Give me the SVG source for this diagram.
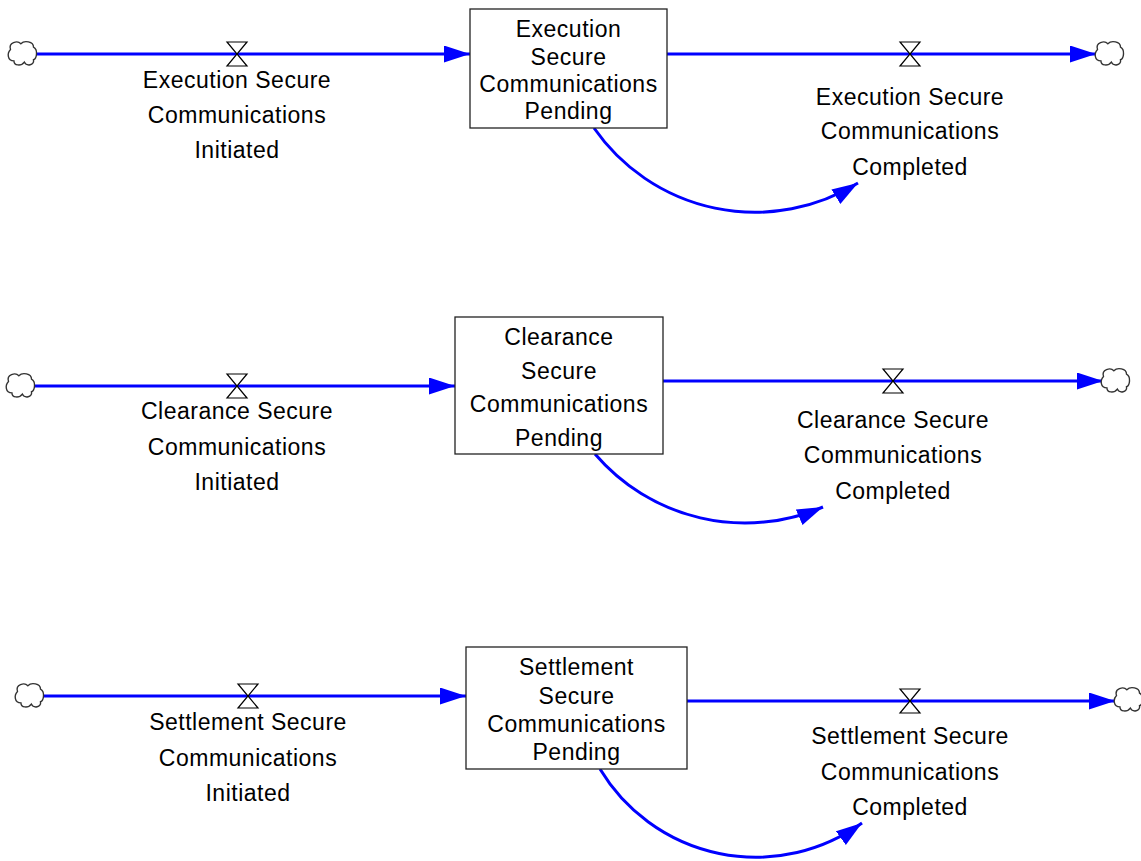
<svg xmlns="http://www.w3.org/2000/svg" width="1141" height="861" viewBox="0 0 1141 861">
<style>
text{font-family:"Liberation Sans",Arial,sans-serif;font-size:23px;letter-spacing:0.5px;fill:#000;text-anchor:middle}
.flow{stroke:#0000ff;stroke-width:3;fill:none}
.link{stroke:#0000ff;stroke-width:3;fill:none}
.stock{fill:#fff;stroke:#222;stroke-width:1.3}
.valve{fill:#fff;stroke:#000;stroke-width:1.2;stroke-linejoin:miter}
.cloud{fill:#fff;stroke:#333;stroke-width:1.2}
</style>
<defs>
<marker id="ah" markerUnits="userSpaceOnUse" markerWidth="27" markerHeight="18" refX="26" refY="8.5" orient="auto">
<path d="M0,0 L26,8.5 L0,17 Z" fill="#0000ff"/>
</marker>
<path id="cloudShape" class="cloud" transform="scale(1.15)" d="M-10,-4 C-12,-10 -4,-12 -1,-9 C2,-12 10,-11 10,-6 C14,-4 13,4 10,5 C11,10 4,11 2,7 C-1,11 -7,10 -7,6 C-13,6 -13,-1 -10,-4 Z"/>
<path id="valveShape" class="valve" d="M-10,-12 L10,-12 L0,0 L10,12 L-10,12 L0,0 Z"/>
</defs>

<g id="connectors">
<path class="flow" d="M35,54 L470,54" marker-end="url(#ah)"/>
<path class="flow" d="M667,54 L1096,54" marker-end="url(#ah)"/>
<path class="link" d="M594,128 A196,196 0 0 0 858,183" marker-end="url(#ah)"/>

<path class="flow" d="M33,386 L455,386" marker-end="url(#ah)"/>
<path class="flow" d="M663,381 L1103,381" marker-end="url(#ah)"/>
<path class="link" d="M595,454 A197.6,197.6 0 0 0 823,507" marker-end="url(#ah)"/>

<path class="flow" d="M42,696 L466,696" marker-end="url(#ah)"/>
<path class="flow" d="M687,701 L1115,701" marker-end="url(#ah)"/>
<path class="link" d="M600,769 A181.8,181.8 0 0 0 862,823" marker-end="url(#ah)"/>
</g>

<g id="clouds">
<use href="#cloudShape" x="22" y="54"/>
<use href="#cloudShape" x="1109" y="54"/>
<use href="#cloudShape" x="20" y="386"/>
<use href="#cloudShape" x="1115" y="381"/>
<use href="#cloudShape" x="29" y="696"/>
<use href="#cloudShape" x="1128" y="700"/>
</g>

<g id="stock-execution">
<rect class="stock" x="470" y="9" width="197" height="119"/>
<text x="568.5" y="37">Execution</text>
<text x="568.5" y="65">Secure</text>
<text x="568.5" y="92">Communications</text>
<text x="568.5" y="119">Pending</text>
</g>

<g id="flow-execution-initiated">
<use href="#valveShape" x="237" y="54"/>
<text x="237" y="88">Execution Secure</text>
<text x="237" y="123">Communications</text>
<text x="237" y="158">Initiated</text>
</g>

<g id="flow-execution-completed">
<use href="#valveShape" x="910" y="54"/>
<text x="910" y="105">Execution Secure</text>
<text x="910" y="139">Communications</text>
<text x="910" y="175">Completed</text>
</g>

<g id="stock-clearance">
<rect class="stock" x="455" y="317" width="208" height="137"/>
<text x="559" y="345">Clearance</text>
<text x="559" y="379">Secure</text>
<text x="559" y="412">Communications</text>
<text x="559" y="446">Pending</text>
</g>

<g id="flow-clearance-initiated">
<use href="#valveShape" x="237" y="386"/>
<text x="237" y="419">Clearance Secure</text>
<text x="237" y="455">Communications</text>
<text x="237" y="490">Initiated</text>
</g>

<g id="flow-clearance-completed">
<use href="#valveShape" x="893" y="381"/>
<text x="893" y="428">Clearance Secure</text>
<text x="893" y="463">Communications</text>
<text x="893" y="499">Completed</text>
</g>

<g id="stock-settlement">
<rect class="stock" x="466" y="647" width="221" height="122"/>
<text x="576.5" y="675">Settlement</text>
<text x="576.5" y="704">Secure</text>
<text x="576.5" y="732">Communications</text>
<text x="576.5" y="760">Pending</text>
</g>

<g id="flow-settlement-initiated">
<use href="#valveShape" x="248" y="696"/>
<text x="248" y="730">Settlement Secure</text>
<text x="248" y="766">Communications</text>
<text x="248" y="801">Initiated</text>
</g>

<g id="flow-settlement-completed">
<use href="#valveShape" x="910" y="701"/>
<text x="910" y="744">Settlement Secure</text>
<text x="910" y="780">Communications</text>
<text x="910" y="815">Completed</text>
</g>
</svg>
